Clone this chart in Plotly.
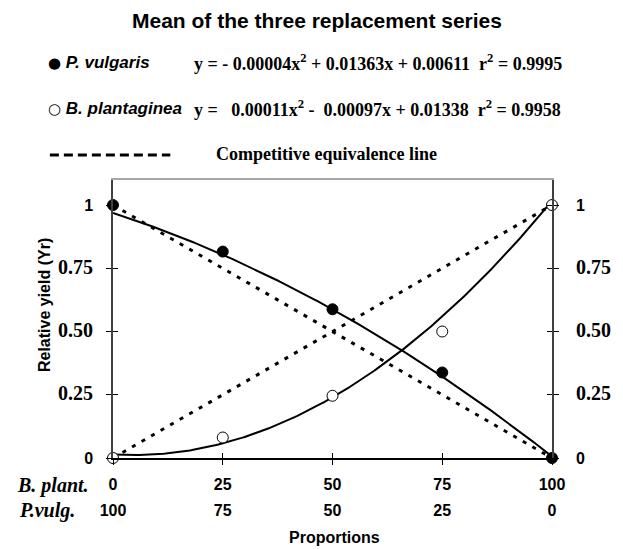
import numpy as np
import plotly.graph_objects as go

# ---- data ----
proportion_b_plant = [0, 25, 50, 75, 100]
proportion_p_vulg = [100, 75, 50, 25, 0]
yr_p_vulgaris = [1.0, 0.816, 0.588, 0.338, 0.0]
yr_b_plantaginea = [0.0, 0.081, 0.246, 0.50, 1.0]
# fitted quadratic coefficients printed on the chart (a, b, c): y = a x^2 + b x + c
fit_p_vulgaris = [-0.00004, 0.01363, 0.00611]   # x = P. vulgaris proportion
fit_b_plantaginea = [0.00011, -0.00097, 0.01338]  # x = B. plantaginea proportion
equiv_p = [1, 0]
equiv_b = [0, 1]
equiv_x = [0, 100]
y_tick_vals = [0, 0.25, 0.5, 0.75, 1]
y_tick_text = ["0", "0.25", "0.50", "0.75", "1"]

W, H = 623, 549
L, R, T, B = 113, 565, 180, 458
def px(x):
    return (x - L) / (R - L)
def py(y):
    return (B - y) / (B - T)

SANS = "Liberation Sans, Arial"
SERIF = "Liberation Serif, Times New Roman"

xs = np.linspace(0, 100, 201)
a, b, c = fit_p_vulgaris
xv = 100 - xs
fit_pv = a * xv**2 + b * xv + c
a, b, c = fit_b_plantaginea
fit_bp = a * xs**2 + b * xs + c

fig = go.Figure()
dot = dict(color="black", width=3, dash="4px,7px")
fig.add_trace(go.Scatter(x=equiv_x, y=equiv_p, mode="lines", line=dot, showlegend=False))
fig.add_trace(go.Scatter(x=equiv_x, y=equiv_b, mode="lines", line=dot, showlegend=False))
fig.add_trace(go.Scatter(x=xs, y=fit_pv, mode="lines", line=dict(color="black", width=2), showlegend=False))
fig.add_trace(go.Scatter(x=xs, y=fit_bp, mode="lines", line=dict(color="black", width=2), showlegend=False))
fig.add_trace(go.Scatter(x=proportion_b_plant, y=yr_p_vulgaris, mode="markers",
                         marker=dict(color="black", size=11, line=dict(color="black", width=1)),
                         cliponaxis=False, showlegend=False))
fig.add_trace(go.Scatter(x=proportion_b_plant, y=yr_b_plantaginea, mode="markers",
                         marker=dict(color="white", size=11, line=dict(color="black", width=1)),
                         cliponaxis=False, showlegend=False))

def ytxt(t):
    if t in ("0", "1"):
        return f"<b>{t}</b>"
    return f"<b><span style='font-family:Liberation Serif, Times New Roman;font-size:20px'>{t}</span></b>"

ytext = [ytxt(t) for t in y_tick_text]
xtext1 = [f"<b>{v}</b>" for v in proportion_b_plant]
xtext2 = [f"<b>{v}</b>" for v in proportion_p_vulg]

tickfont = dict(family=SANS, size=16, color="black")
noax = dict(showgrid=False, zeroline=False)
fig.update_layout(
    width=W, height=H, margin=dict(l=L, r=W - R, t=T, b=H - B),
    paper_bgcolor="white", plot_bgcolor="white",
    xaxis=dict(range=[0, 100], tickvals=proportion_b_plant, ticktext=xtext1, ticks="outside",
               ticklen=5, tickcolor="black", showline=True, linecolor="black", linewidth=1.5,
               tickfont=tickfont, ticklabelstandoff=6, **noax),
    xaxis2=dict(range=[0, 100], overlaying="x", side="top", anchor="y", showline=True,
                linecolor="#a8a8a8", linewidth=1.5, showticklabels=False, ticks="", **noax),
    xaxis3=dict(range=[0, 100], overlaying="x", side="bottom", anchor="y", tickvals=proportion_b_plant,
                ticktext=xtext2, ticks="inside", ticklen=5, tickcolor="black",
                tickfont=tickfont, ticklabelstandoff=41, **noax),
    yaxis=dict(range=[0, 1.099], tickvals=y_tick_vals, ticktext=ytext, ticks="outside", ticklen=5,
               tickcolor="black", showline=True, linecolor="#404040", linewidth=1.5,
               tickfont=tickfont, ticklabelstandoff=10, **noax),
    yaxis2=dict(range=[0, 1.099], overlaying="y", side="right", anchor="x", tickvals=y_tick_vals,
                ticktext=ytext, ticks="outside", ticklen=5, tickcolor="black", showline=True,
                linecolor="#404040", linewidth=1.5, tickfont=tickfont, ticklabelstandoff=14, **noax),
    yaxis3=dict(range=[0, 1.099], overlaying="y", side="left", anchor="x", tickvals=y_tick_vals,
                ticks="inside", ticklen=5, tickcolor="black", showticklabels=False, **noax),
    yaxis4=dict(range=[0, 1.099], overlaying="y", side="right", anchor="x", tickvals=y_tick_vals,
                ticks="inside", ticklen=5, tickcolor="black", showticklabels=False, **noax),
)
# empty traces so the overlay axes are drawn
fig.add_trace(go.Scatter(x=[None], y=[None], xaxis="x2", yaxis="y", showlegend=False))
fig.add_trace(go.Scatter(x=[None], y=[None], xaxis="x3", yaxis="y", showlegend=False))
fig.add_trace(go.Scatter(x=[None], y=[None], xaxis="x", yaxis="y2", showlegend=False))
fig.add_trace(go.Scatter(x=[None], y=[None], xaxis="x", yaxis="y3", showlegend=False))
fig.add_trace(go.Scatter(x=[None], y=[None], xaxis="x", yaxis="y4", showlegend=False))

ann = []
def add(text, x, y, size, family, xanchor="left", textangle=0):
    ann.append(dict(text=text, x=px(x), y=py(y), xref="paper", yref="paper", showarrow=False,
                    xanchor=xanchor, yanchor="middle", textangle=textangle,
                    font=dict(family=family, size=size, color="black")))

SYM = "<span style='font-family:DejaVu Sans;font-size:15px'>"
add("<b>Mean of the three replacement series</b>", 323, 20, 21, SANS, "center")
add(f"{SYM}●</span><b> <i>P. vulgaris</i></b>", 44, 63, 17, SANS)
add("<b>y = - 0.00004x<sup>2</sup> + 0.01363x + 0.00611\u00a0\u00a0r<sup>2</sup> = 0.9995</b>", 194, 63, 18, SERIF)
add(f"{SYM}○</span><b> <i>B. plantaginea</i></b>", 44, 108, 17, SANS)
add("<b>y =\u00a0\u00a0\u00a00.00011x<sup>2</sup> -\u00a0\u00a00.00097x + 0.01338\u00a0\u00a0r<sup>2</sup> = 0.9958</b>", 194, 108, 18, SERIF)
add("<b>Competitive equivalence line</b>", 217, 154, 18, SERIF)
add("<b><i>B. plant.</i></b>", 12, 485, 20, SERIF)
add("<b><i>P.vulg.</i></b>", 14, 510, 20, SERIF)
add("<b>Proportions</b>", 341, 537, 16, SANS, "center")
add("<b>Relative yield (Yr)</b>", 42, 305, 16, SANS, "center", -90)
fig.update_layout(annotations=ann)

fig.add_shape(type="line", xref="paper", yref="paper", x0=px(48), x1=px(172), y0=py(155), y1=py(155),
              line=dict(color="black", width=3, dash="9px,5px"))

fig.write_html("out.html", config={"displayModeBar": False},
               post_script="document.body.style.margin='0';document.body.style.overflow='hidden';")
